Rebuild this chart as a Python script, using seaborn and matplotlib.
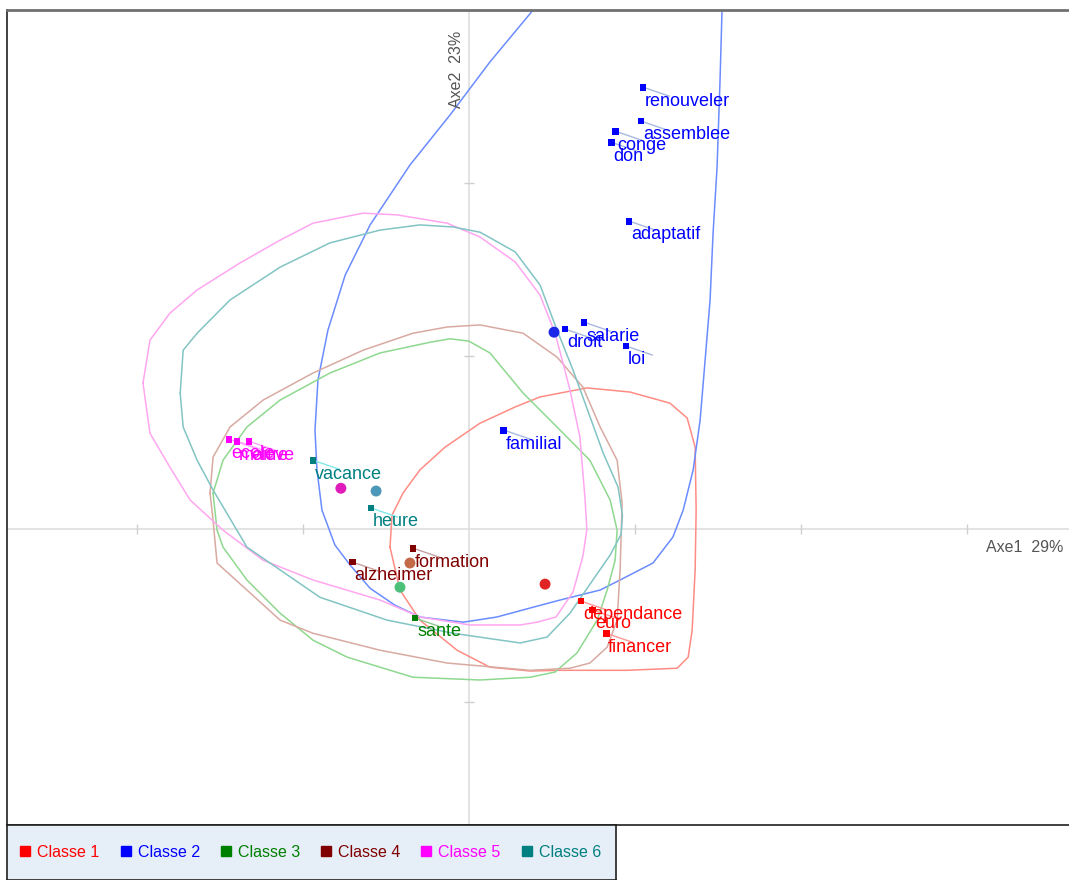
import pandas as pd
import matplotlib
matplotlib.use("Agg")
import matplotlib.pyplot as plt
import seaborn as sns
from matplotlib.lines import Line2D

classes = ["Classe 1", "Classe 2", "Classe 3", "Classe 4", "Classe 5", "Classe 6"]
class_colors = ["#ff0000", "#0000ff", "#008000", "#800000", "#ff00ff", "#008080"]
hull_colors = ["#ff8c84", "#6b8cff", "#8fd88f", "#d8aaa2", "#ffa6f0", "#82c4c4"]
centroid_colors = ["#e02424", "#1c28e8", "#4cc078", "#c46a48", "#e01cbc", "#4c98b8"]
leader_colors = ["#ff9898", "#a8b8e0", "#90c890", "#c8a0a0", "#ffa0ff", "#80e8e8"]

words = ["renouveler", "assemblee", "conge", "don", "adaptatif", "droit", "salarie", "loi", "familial",
         "dependance", "euro", "financer",
         "sante",
         "alzheimer", "formation",
         "ecole", "maitre", "eleve",
         "vacance", "heure"]
word_class = ["Classe 2"] * 9 + ["Classe 1"] * 3 + ["Classe 3"] + ["Classe 4"] * 2 + ["Classe 5"] * 3 + ["Classe 6"] * 2
word_x = [0.524, 0.518, 0.440, 0.428, 0.482, 0.289, 0.346, 0.473, 0.105,
          0.337, 0.373, 0.413,
          -0.163,
          -0.352, -0.169,
          -0.723, -0.699, -0.663,
          -0.470, -0.295]
word_y = [1.277, 1.179, 1.150, 1.118, 0.890, 0.578, 0.598, 0.529, 0.286,
          -0.208, -0.234, -0.301,
          -0.257,
          -0.095, -0.055,
          0.260, 0.254, 0.254,
          0.199, 0.061]

# centres de classe
centroid_x = [0.229, 0.256, -0.208, -0.178, -0.386, -0.280]
centroid_y = [-0.159, 0.569, -0.168, -0.098, 0.118, 0.110]

# enveloppes des classes
hull1_x = [-0.238, -0.232, -0.199, -0.148, -0.072, 0.033, 0.139, 0.214, 0.355, 0.485, 0.605, 0.657, 0.681,
           0.684, 0.681, 0.672, 0.660, 0.627, 0.476, 0.274, 0.184, 0.063, -0.036, -0.148, -0.208, -0.238]
hull1_y = [-0.052, 0.040, 0.104, 0.171, 0.237, 0.306, 0.353, 0.382, 0.408, 0.396, 0.364, 0.321, 0.237,
           0.055, -0.118, -0.292, -0.370, -0.402, -0.408, -0.408, -0.410, -0.399, -0.350, -0.263, -0.176, -0.052]
hull2_x = [0.193, 0.063, -0.057, -0.178, -0.298, -0.373, -0.425, -0.455, -0.464, -0.458, -0.443, -0.404,
           -0.358, -0.298, -0.223, -0.148, -0.018, 0.084, 0.184, 0.274, 0.395, 0.455, 0.554, 0.614, 0.645,
           0.675, 0.696, 0.711, 0.726, 0.735, 0.747, 0.756, 0.762]
hull2_y = [1.500, 1.350, 1.197, 1.052, 0.879, 0.734, 0.575, 0.431, 0.286, 0.171, 0.055, -0.046,
           -0.104, -0.171, -0.220, -0.254, -0.269, -0.254, -0.228, -0.205, -0.176, -0.147, -0.098, -0.023, 0.055,
           0.171, 0.315, 0.488, 0.662, 0.855, 1.046, 1.298, 1.500]
hull3_x = [-0.771, -0.741, -0.669, -0.569, -0.419, -0.268, -0.117, -0.057, 0.000, 0.063, 0.163, 0.265, 0.364,
           0.425, 0.446, 0.440, 0.416, 0.386, 0.325, 0.259, 0.184, 0.033, -0.169, -0.367, -0.470, -0.569,
           -0.669, -0.741, -0.759, -0.771]
hull3_y = [0.104, 0.199, 0.295, 0.373, 0.451, 0.509, 0.540, 0.550, 0.543, 0.509, 0.393, 0.295, 0.199,
           0.084, -0.003, -0.090, -0.176, -0.263, -0.358, -0.413, -0.428, -0.436, -0.428, -0.370, -0.321,
           -0.243, -0.147, -0.052, -0.003, 0.104]
hull4_x = [-0.780, -0.771, -0.720, -0.620, -0.470, -0.319, -0.169, -0.066, 0.033, 0.163, 0.265, 0.343, 0.395,
           0.446, 0.461, 0.455, 0.446, 0.416, 0.364, 0.304, 0.184, -0.066, -0.268, -0.470, -0.569, -0.669,
           -0.759, -0.771, -0.780]
hull4_y = [0.104, 0.208, 0.295, 0.373, 0.451, 0.517, 0.566, 0.584, 0.590, 0.566, 0.497, 0.410, 0.295,
           0.199, 0.075, -0.118, -0.263, -0.341, -0.387, -0.402, -0.408, -0.387, -0.350, -0.301, -0.263, -0.176,
           -0.098, 0.026, 0.104]
hull5_x = [-0.982, -0.961, -0.901, -0.819, -0.690, -0.569, -0.470, -0.319, -0.217, -0.066, 0.033, 0.139, 0.214,
           0.259, 0.283, 0.304, 0.334, 0.349, 0.355, 0.343, 0.313, 0.262, 0.205, 0.154, 0.003, -0.147, -0.268,
           -0.470, -0.620, -0.741, -0.840, -0.901, -0.961, -0.982]
hull5_y = [0.422, 0.546, 0.624, 0.691, 0.769, 0.835, 0.884, 0.913, 0.908, 0.884, 0.844, 0.772, 0.676,
           0.566, 0.480, 0.402, 0.266, 0.092, 0.000, -0.078, -0.182, -0.254, -0.269, -0.277, -0.277, -0.254,
           -0.205, -0.147, -0.090, -0.003, 0.084, 0.179, 0.277, 0.422]
hull6_x = [-0.870, -0.861, -0.819, -0.720, -0.569, -0.419, -0.268, -0.148, -0.048, 0.033, 0.139, 0.214, 0.259,
           0.313, 0.404, 0.449, 0.462, 0.458, 0.425, 0.373, 0.304, 0.235, 0.154, -0.048, -0.247, -0.449, -0.569,
           -0.669, -0.771, -0.819, -0.861, -0.870]
hull6_y = [0.393, 0.517, 0.566, 0.662, 0.757, 0.827, 0.864, 0.879, 0.873, 0.858, 0.801, 0.705, 0.590,
           0.460, 0.220, 0.121, 0.040, -0.015, -0.075, -0.147, -0.243, -0.312, -0.329, -0.301, -0.263, -0.197,
           -0.118, -0.052, 0.113, 0.199, 0.295, 0.393]

axis_ticks = [-1.0, -0.5, 0.5, 1.0, 1.5]
axis_labels = ["Axe1  29%", "Axe2  23%"]

words_df = pd.DataFrame({"mot": words, "classe": word_class, "x": word_x, "y": word_y})
centres_df = pd.DataFrame({"classe": classes, "x": centroid_x, "y": centroid_y})
hulls = [(hull1_x, hull1_y), (hull2_x, hull2_y), (hull3_x, hull3_y),
         (hull4_x, hull4_y), (hull5_x, hull5_y), (hull6_x, hull6_y)]
hull_df = pd.concat([pd.DataFrame({"classe": c, "x": hx, "y": hy})
                     for c, (hx, hy) in zip(classes, hulls)], ignore_index=True)

sns.set_style("white")
plt.rcParams["font.family"] = ["Liberation Sans", "DejaVu Sans"]

fig = plt.figure(figsize=(10.69, 8.80), dpi=100)
ax = fig.add_axes([7 / 1069, 55 / 880, 1 - 7 / 1069, 815 / 880])
ax.set_xlim(-1.3916, 1.807)
ax.set_ylim(-0.855, 1.5)

# axes factoriels
ax.axhline(0, color="#dedede", lw=1.2, zorder=0)
ax.axvline(0, color="#dedede", lw=1.2, zorder=0)
ax.plot(axis_ticks, [0] * len(axis_ticks), ls="", marker="|", ms=7, color="#cfcfcf", zorder=0)
ax.plot([0] * len(axis_ticks), axis_ticks, ls="", marker="_", ms=7, color="#cfcfcf", zorder=0)

sns.lineplot(data=hull_df, x="x", y="y", hue="classe", units="classe", estimator=None, sort=False,
             palette=dict(zip(classes, hull_colors)), lw=1.1, legend=False, ax=ax, zorder=1)

col = dict(zip(classes, class_colors))
lead = dict(zip(classes, leader_colors))
for _, r in words_df.iterrows():
    # trait de rappel entre le point et son etiquette
    ax.annotate("", xy=(r["x"], r["y"]), xytext=(19, -6.5), textcoords="offset points", zorder=3,
                arrowprops=dict(arrowstyle="-", color=lead[r["classe"]], lw=1.0, shrinkA=0, shrinkB=0))
    ax.annotate(r["mot"], xy=(r["x"], r["y"]), xytext=(1.5, -10), textcoords="offset points",
                ha="left", va="center", fontsize=13, color=col[r["classe"]], zorder=5)

sns.scatterplot(data=words_df, x="x", y="y", hue="classe", palette=col,
                marker="s", s=24, linewidth=0, legend=False, ax=ax, zorder=4)
sns.scatterplot(data=centres_df, x="x", y="y", hue="classe", palette=dict(zip(classes, centroid_colors)),
                marker="o", s=62, linewidth=0, legend=False, ax=ax, zorder=4)

ax.annotate(axis_labels[0], xy=(1, 0), xycoords=("axes fraction", "data"), xytext=(-60, -13.5),
            textcoords="offset points", ha="left", va="center", fontsize=11.5, color="#555555")
ax.annotate(axis_labels[1], xy=(0, 1), xycoords=("data", "axes fraction"), xytext=(-9, -43),
            textcoords="offset points", ha="center", va="center", rotation=90, fontsize=11.5, color="#555555")

ax.set_xticks([])
ax.set_yticks([])
ax.set_xlabel("")
ax.set_ylabel("")
ax.spines["right"].set_visible(False)
for s in ["left", "bottom"]:
    ax.spines[s].set_color("#202020")
    ax.spines[s].set_linewidth(1.2)
ax.spines["top"].set_color("#707070")
ax.spines["top"].set_linewidth(2)

# legende des classes
lax = fig.add_axes([7 / 1069, 0, 609 / 1069, 55 / 880])
lax.set_facecolor("#e6eef8")
lax.set_xticks([])
lax.set_yticks([])
for s in lax.spines.values():
    s.set_color("#202020")
    s.set_linewidth(1.2)
handles = [Line2D([], [], marker="s", ls="", color=c, ms=7.5) for c in class_colors]
lax.legend(handles, classes, ncol=6, loc="center left", frameon=False, fontsize=11.5,
           handlelength=0.6, handletextpad=0.45, columnspacing=1.33, labelcolor=class_colors,
           borderaxespad=0.45)

fig.savefig("out.png", dpi=100)
